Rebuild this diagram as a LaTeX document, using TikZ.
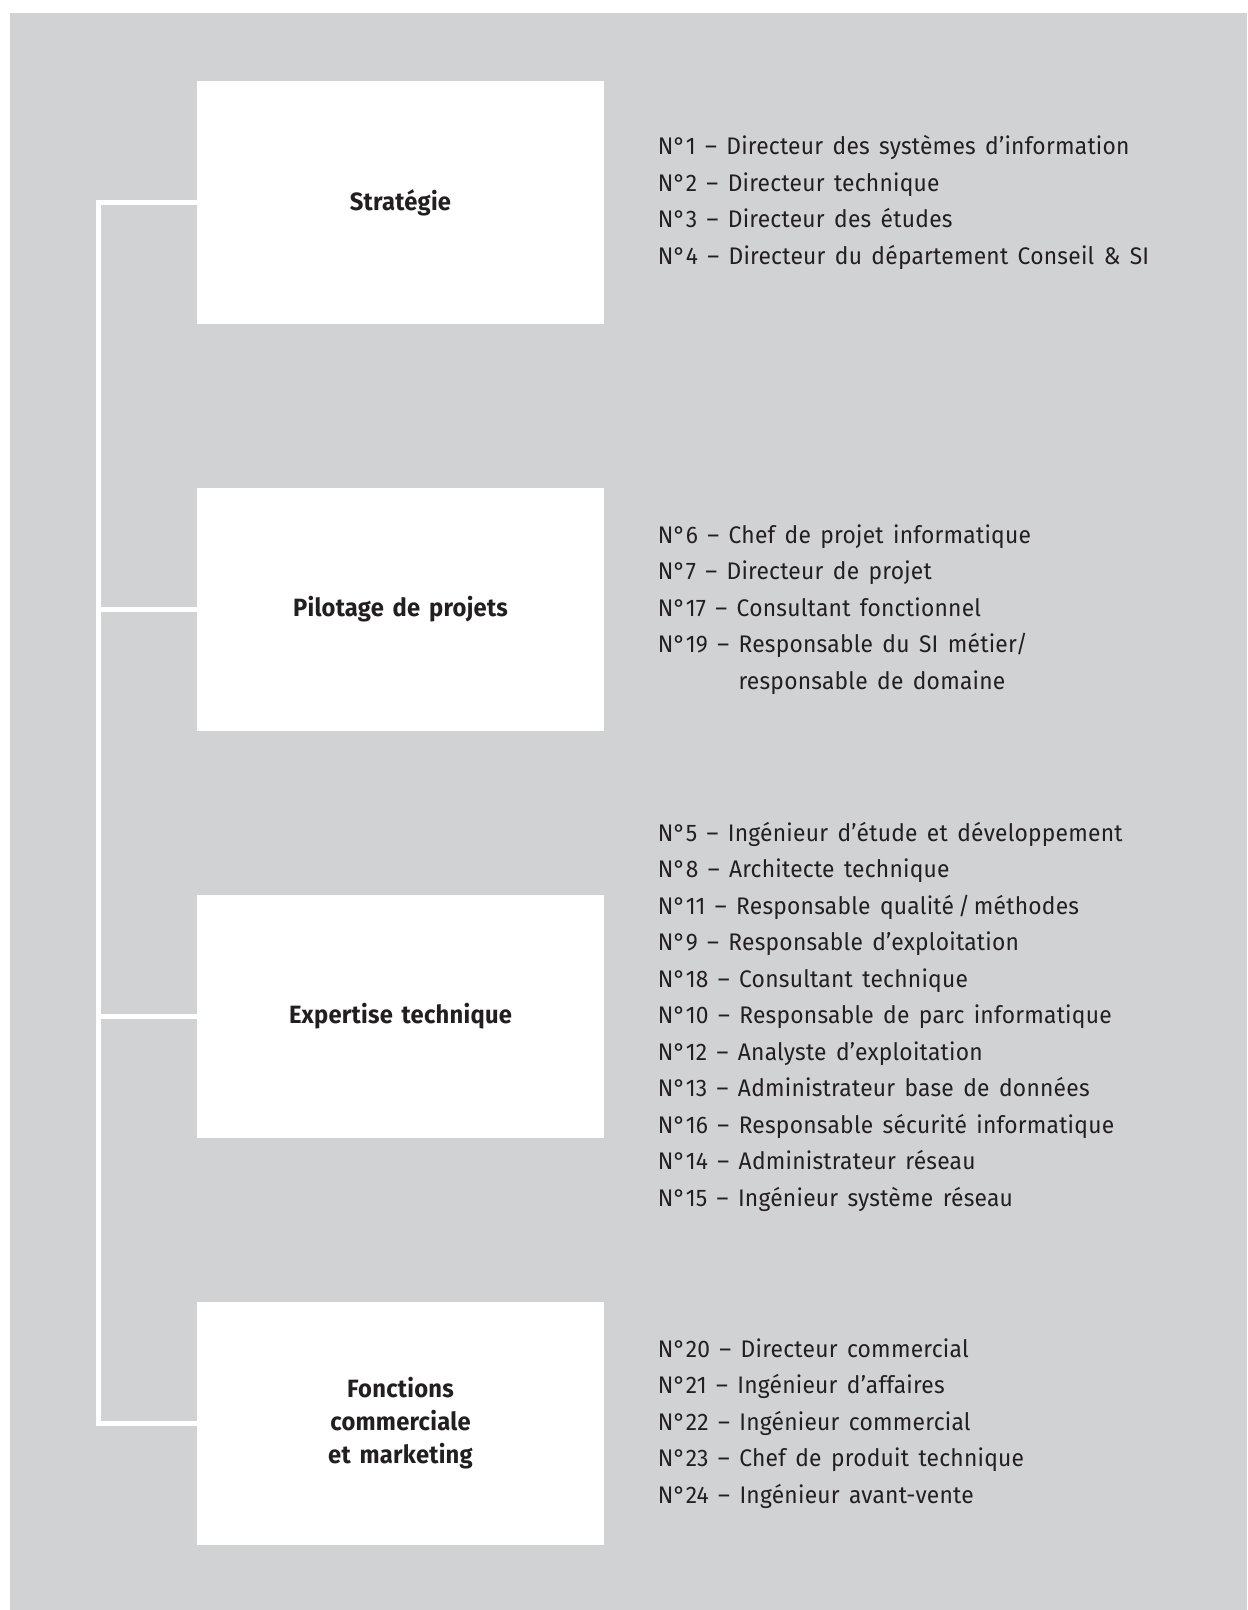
\documentclass[tikz,border=0pt]{standalone}
\usepackage{fontspec}
\setmainfont{Fira Sans}[FakeStretch=0.95, LetterSpace=1, WordSpace=1.5]
\usetikzlibrary{positioning}
\definecolor{panelgray}{HTML}{D1D2D4}
\definecolor{inkdark}{HTML}{231F20}

\begin{document}
\begin{tikzpicture}[x=0.5pt,y=-0.5pt,node distance=203.5pt,every node/.style={text=inkdark}]
    \useasboundingbox (0,0) rectangle (1247,1610);
    \fill[panelgray] (10,13) rectangle (1247,1610);
    \tikzstyle{areabox} = [rectangle, fill=white, minimum width=203.5pt, minimum height=121.5pt, inner sep=0pt, align=center, font=\bfseries\fontsize{12.5}{16.5}\selectfont]
    \tikzstyle{jobs} = [anchor=west, inner sep=0pt, align=left, font=\fontsize{12}{18.25}\selectfont]
    \tikzstyle{link} = [draw=white, line width=2.5pt]
    \node (strat) [areabox] at (400.5,202.5) {Stratégie};
    \node (pilot) [areabox, below of=strat] {Pilotage de projets};
    \node (expert) [areabox, below of=pilot] {Expertise technique};
    \node (fonc) [areabox, below of=expert] {Fonctions\\commerciale\\et marketing};
    \node (stratlist) [jobs, right=26.5pt of strat] {N°1 – Directeur des systèmes d’information\\N°2 – Directeur technique\\N°3 – Directeur des études\\N°4 – Directeur du département Conseil \& SI};
    \node (pilotlist) [jobs, right=26.5pt of pilot] {N°6 – Chef de projet informatique\\N°7 – Directeur de projet\\N°17 – Consultant fonctionnel\\N°19 – Responsable du SI métier/\\\phantom{N°19 – }responsable de domaine};
    \node (expertlist) [jobs, right=26.5pt of expert] {N°5 – Ingénieur d’étude et développement\\N°8 – Architecte technique\\N°11 – Responsable qualité\,/\,méthodes\\N°9 – Responsable d’exploitation\\N°18 – Consultant technique\\N°10 – Responsable de parc informatique\\N°12 – Analyste d’exploitation\\N°13 – Administrateur base de données\\N°16 – Responsable sécurité informatique\\N°14 – Administrateur réseau\\N°15 – Ingénieur système réseau};
    \node (fonclist) [jobs, right=26.5pt of fonc] {N°20 – Directeur commercial\\N°21 – Ingénieur d’affaires\\N°22 – Ingénieur commercial\\N°23 – Chef de produit technique\\N°24 – Ingénieur avant-vente};
    \draw [link] (strat.west) -- ++(-98,0) coordinate (spine) |- (fonc.west);
    \draw [link] (pilot.west) -- (pilot.west -| spine);
    \draw [link] (expert.west) -- (expert.west -| spine);
\end{tikzpicture}
\end{document}
